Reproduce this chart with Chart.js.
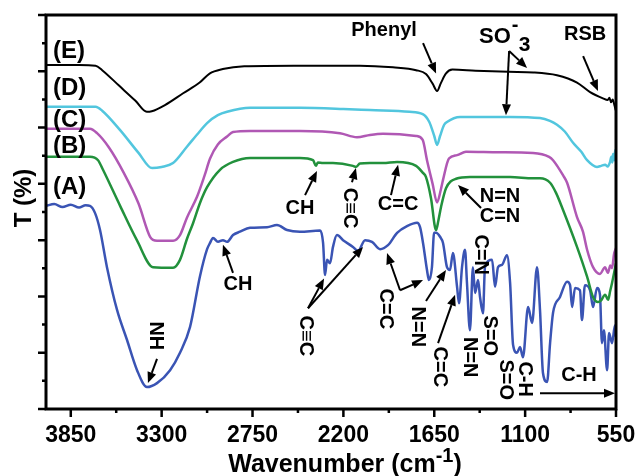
<!DOCTYPE html>
<html>
<head>
<meta charset="utf-8">
<script src="https://cdn.jsdelivr.net/npm/chart.js@4.4.1/dist/chart.umd.min.js"></script>
<style>
  html, body { margin: 0; padding: 0; background: #fff; }
</style>
</head>
<body>
<canvas id="ftir" width="636" height="476"></canvas>
<script>
const FONT = '"Liberation Sans", Arial, Helvetica, sans-serif';

// [wavenumber cm-1, T] pairs
const specE = [[4000,61.1],[3800,61.1],[3700,61.0],[3660,60.2],[3560,57.5],[3460,54.8],[3390,52.8],[3360,52.9],[3280,54.0],[3170,56.1],[3070,58.0],[3010,59.6],[2930,60.4],[2800,60.9],[2500,61.0],[2100,61.0],[1900,60.7],[1760,60.2],[1700,59.5],[1660,57.8],[1633,56.5],[1610,57.9],[1580,59.6],[1540,60.3],[1400,60.1],[1200,59.9],[1050,59.8],[907,59.3],[786,58.0],[707,56.3],[629,55.2],[600,54.9],[590,55.3],[580,54.5],[570,55.0],[560,54.0],[552,53.1]];
const specD = [[4000,53.7],[3700,53.7],[3660,53.0],[3550,49.5],[3440,45.5],[3358,42.8],[3300,43.0],[3231,43.7],[3147,46.6],[3070,49.3],[3025,50.8],[2960,52.2],[2904,52.8],[2765,53.5],[2463,53.5],[2200,53.3],[2039,53.1],[1800,52.8],[1720,52.4],[1680,51.0],[1650,48.5],[1633,46.9],[1615,48.5],[1590,50.5],[1573,51.0],[1494,51.9],[1191,51.9],[1010,51.7],[950,51.2],[907,50.5],[860,49.3],[810,47.3],[760,45.7],[725,44.2],[665,43.0],[640,43.2],[616,43.4],[600,43.1],[586,43.9],[578,44.8],[572,43.8],[568,45.3],[560,44.2],[555,46.0],[550,45.5]];
const specC = [[4000,49.8],[3734,49.8],[3691,49.0],[3620,46.5],[3530,42.0],[3440,36.5],[3370,30.6],[3328,29.9],[3231,29.9],[3189,30.9],[3147,34.0],[3086,37.7],[3040,41.5],[3007,44.5],[2960,47.0],[2904,48.4],[2868,49.2],[2765,49.4],[2463,49.4],[2221,49.0],[2118,48.3],[2039,48.7],[1960,48.9],[1760,48.5],[1720,47.8],[1694,44.2],[1660,40.0],[1633,36.7],[1610,39.0],[1597,40.7],[1561,44.5],[1512,45.1],[1458,45.7],[1258,45.6],[1052,45.5],[955,44.8],[931,44.2],[870,41.5],[846,40.2],[786,34.1],[750,31.5],[725,28.3],[689,25.2],[647,24.0],[616,25.2],[605,24.5],[598,24.2],[585,25.5],[574,25.0],[562,27.5],[550,28.6]];
const specB = [[4000,44.8],[3734,44.8],[3685,44.2],[3655,42.5],[3550,36.0],[3450,30.0],[3352,25.2],[3231,25.1],[3189,26.5],[3147,30.2],[3110,33.0],[3068,36.6],[3025,39.4],[2947,42.5],[2868,43.9],[2765,44.6],[2463,44.6],[2384,44.2],[2366,43.2],[2355,43.8],[2323,43.7],[2263,43.7],[2142,43.2],[2124,43.0],[2100,43.6],[2039,43.7],[1960,43.7],[1875,43.9],[1760,43.2],[1720,42.0],[1700,41.2],[1670,37.5],[1639,31.8],[1625,33.5],[1609,35.9],[1579,39.2],[1518,40.9],[1434,41.2],[1191,41.2],[1052,41.0],[1010,41.0],[949,40.2],[913,38.4],[871,35.4],[786,28.8],[725,23.5],[689,19.9],[659,19.0],[640,19.3],[616,20.3],[598,19.4],[585,21.0],[574,22.4],[550,25.9]];
const specA = [[4000,36.1],[3950,36.4],[3900,35.9],[3850,36.3],[3800,35.8],[3760,36.2],[3734,36.1],[3703,34.8],[3673,31.8],[3631,25.2],[3570,17.6],[3510,12.3],[3449,6.9],[3389,3.9],[3328,4.6],[3249,6.9],[3189,10.0],[3128,14.6],[3068,23.6],[3025,28.4],[3007,29.5],[2989,30.4],[2959,29.7],[2929,30.0],[2904,29.7],[2868,30.9],[2826,31.5],[2765,32.2],[2662,32.3],[2602,32.7],[2541,31.8],[2463,31.5],[2341,31.7],[2323,29.5],[2311,23.8],[2299,26.5],[2281,25.9],[2263,28.8],[2239,30.9],[2202,30.0],[2142,28.8],[2111,28.1],[2069,30.0],[2027,29.7],[1978,28.4],[1930,29.1],[1875,31.3],[1815,32.5],[1754,33.1],[1736,32.3],[1718,29.5],[1694,24.7],[1682,22.9],[1664,25.2],[1651,31.3],[1639,31.3],[1615,30.6],[1597,29.5],[1573,25.2],[1555,24.7],[1537,27.7],[1512,21.7],[1500,18.8],[1482,25.2],[1464,28.3],[1452,22.4],[1434,14.0],[1416,25.2],[1403,20.6],[1385,22.9],[1373,19.9],[1355,17.0],[1343,25.2],[1300,26.5],[1282,21.7],[1264,25.2],[1240,25.6],[1210,27.3],[1191,22.4],[1173,11.4],[1149,10.0],[1131,11.0],[1113,9.2],[1082,18.1],[1058,15.3],[1028,25.2],[1010,17.6],[992,6.4],[967,4.8],[949,11.7],[931,17.1],[889,19.9],[846,22.6],[828,22.0],[816,18.1],[798,21.5],[768,21.1],[756,15.8],[738,22.0],[707,21.1],[689,18.1],[665,21.5],[647,20.3],[635,11.7],[623,14.0],[604,6.9],[592,13.5],[574,11.7],[556,14.9],[550,12.8]];

const seriesNames = ['(E)', '(D)', '(C)', '(B)', '(A)'];
const seriesData = [specE, specD, specC, specB, specA];
const seriesColors = ['#000000', '#52c6de', '#b058b4', '#22913c', '#3a54b4'];
const xTicks = [3850, 3300, 2750, 2200, 1650, 1100, 550];
const xMinor = [3575, 3025, 2475, 1925, 1375, 825];
const yMajor = [0, 10, 20, 30, 40, 50, 60, 70];
const yMinor = [5, 15, 25, 35, 45, 55, 65];

// band labels: text, anchor [wn, T], rotated?, arrows [[from],[to]]
const notes = [
  { text: '(E)', at: [3958, 63.6], left: true, size: 24 },
  { text: '(D)', at: [3958, 56.9], left: true, size: 24 },
  { text: '(C)', at: [3958, 51.2], left: true, size: 24 },
  { text: '(B)', at: [3958, 46.6], left: true, size: 24 },
  { text: '(A)', at: [3958, 39.3], left: true, size: 24 },
  { text: 'Phenyl', at: [1954, 67.3], arrows: [[[1718, 65.0], [1639, 59.6]]] },
  { text: 'RSB', at: [737, 66.6], arrows: [[[749, 62.7], [659, 56.5]]] },
  { text: 'CH', at: [2463, 35.7], arrows: [[[2432, 38.0], [2360, 42.3]]] },
  { text: 'C\u2261C', at: [2160, 35.7], rot: true, arrows: [[[2148, 40.3], [2124, 42.8]]] },
  { text: 'C=C', at: [1869, 36.3], arrows: [[[1912, 38.0], [1869, 43.4]]] },
  { text: 'N=N', at: [1252, 37.8] },
  { text: 'C=N', at: [1252, 34.2], arrows: [[[1367, 35.7], [1506, 39.8]]] },
  { text: 'CH', at: [2838, 22.2], arrows: [[[2868, 24.2], [2929, 29.2]]] },
  { text: 'NH', at: [3340, 13.0], rot: true, arrows: [[[3328, 8.9], [3383, 4.6]]] },
  { text: 'C\u2261C', at: [2432, 13.0], rot: true, arrows: [[[2414, 17.9], [2317, 23.2]], [[2414, 17.9], [2081, 28.8]]] },
  { text: 'C=C', at: [1948, 17.8], rot: true, arrows: [[[1857, 21.1], [1936, 27.7]], [[1857, 21.1], [1718, 22.9]]] },
  { text: 'N=N', at: [1754, 14.6], rot: true, arrows: [[[1700, 19.2], [1579, 24.7]]] },
  { text: 'C=C', at: [1621, 7.5], rot: true, arrows: [[[1627, 11.7], [1524, 20.3]]] },
  { text: 'C=N', at: [1373, 27.4], rot: true },
  { text: 'N=N', at: [1434, 9.2], rot: true },
  { text: 'S=O', at: [1313, 13.0], rot: true },
  { text: 'S=O', at: [1216, 5.2], rot: true },
  { text: 'C-H', at: [1101, 5.3], rot: true },
  { text: 'C-H', at: [774, 6.0], arrows: [[[1010, 2.8], [556, 2.8]]] }
];

function arrow(ctx, x0, y0, x1, y1) {
  const ang = Math.atan2(y1 - y0, x1 - x0), head = 11, half = 4.5;
  const bx = x1 - head * Math.cos(ang), by = y1 - head * Math.sin(ang);
  ctx.beginPath(); ctx.moveTo(x0, y0); ctx.lineTo(bx, by); ctx.stroke();
  ctx.beginPath();
  ctx.moveTo(x1, y1);
  ctx.lineTo(bx - half * Math.sin(ang), by + half * Math.cos(ang));
  ctx.lineTo(bx + half * Math.sin(ang), by - half * Math.cos(ang));
  ctx.closePath(); ctx.fill();
}

const decorations = {
  id: 'decorations',
  afterDraw(chart) {
    const { ctx, chartArea: a, scales: { x, y } } = chart;
    const px = v => x.getPixelForValue(v), py = v => y.getPixelForValue(v);
    ctx.save();
    ctx.strokeStyle = '#000';
    ctx.fillStyle = '#000';

    // frame + outward ticks
    ctx.lineWidth = 3;
    ctx.strokeRect(a.left, a.top, a.right - a.left, a.bottom - a.top);
    ctx.lineWidth = 2.5;
    ctx.beginPath();
    xTicks.forEach(v => { ctx.moveTo(px(v), a.bottom); ctx.lineTo(px(v), a.bottom + 8); });
    xMinor.forEach(v => { ctx.moveTo(px(v), a.bottom); ctx.lineTo(px(v), a.bottom + 4); });
    yMajor.forEach(v => { ctx.moveTo(a.left, py(v)); ctx.lineTo(a.left - 8, py(v)); });
    yMinor.forEach(v => { ctx.moveTo(a.left, py(v)); ctx.lineTo(a.left - 4, py(v)); });
    ctx.stroke();

    // axis titles
    ctx.font = 'bold 24px ' + FONT;
    ctx.textAlign = 'center';
    ctx.textBaseline = 'middle';
    ctx.save();
    ctx.translate(24, 198);
    ctx.rotate(-Math.PI / 2);
    ctx.fillText('T (%)', 0, 0);
    ctx.restore();

    ctx.textAlign = 'left';
    ctx.textBaseline = 'alphabetic';
    const main = 'Wavenumber (cm', close = ')', sup = '-1';
    ctx.font = 'bold 25px ' + FONT;
    const wMain = ctx.measureText(main).width, wClose = ctx.measureText(close).width;
    ctx.font = 'bold 20px ' + FONT;
    const wSup = ctx.measureText(sup).width;
    let tx = 345 - (wMain + wSup + wClose) / 2;
    ctx.font = 'bold 25px ' + FONT;
    ctx.fillText(main, tx, 472);
    ctx.font = 'bold 20px ' + FONT;
    ctx.fillText(sup, tx + wMain, 462);
    ctx.font = 'bold 25px ' + FONT;
    ctx.fillText(close, tx + wMain + wSup, 472);

    // band labels and arrows
    ctx.lineWidth = 2;
    notes.forEach(n => {
      const cx = px(n.at[0]), cy = py(n.at[1]);
      ctx.font = 'bold ' + (n.size || 20) + 'px ' + FONT;
      ctx.textBaseline = 'middle';
      if (n.rot) {
        ctx.save();
        ctx.translate(cx, cy);
        ctx.rotate(Math.PI / 2);
        ctx.textAlign = 'center';
        ctx.fillText(n.text, 0, 0);
        ctx.restore();
      } else {
        ctx.textAlign = n.left ? 'left' : 'center';
        ctx.fillText(n.text, cx, cy);
      }
      (n.arrows || []).forEach(([f, t]) => arrow(ctx, px(f[0]), py(f[1]), px(t[0]), py(t[1])));
    });

    // SO3- label with super/subscript
    const sx = px(1379), sy = py(66.1);
    ctx.textAlign = 'left';
    ctx.textBaseline = 'middle';
    ctx.font = 'bold 22px ' + FONT;
    ctx.fillText('SO', sx, sy);
    const wSO = ctx.measureText('SO').width;
    ctx.font = 'bold 20px ' + FONT;
    ctx.fillText('-', sx + wSO + 1, sy - 11);
    ctx.font = 'bold 21px ' + FONT;
    ctx.fillText('3', sx + wSO + 8, sy + 8);
    arrow(ctx, px(1197), py(63.6), px(1088), py(60.6));
    arrow(ctx, px(1197), py(63.6), px(1216), py(52.2));

    ctx.restore();
  }
};

new Chart(document.getElementById('ftir'), {
  type: 'line',
  data: {
    datasets: seriesData.map((s, i) => ({
      label: seriesNames[i],
      data: s.map(([wn, t]) => ({ x: wn, y: t })),
      borderColor: seriesColors[i],
      borderWidth: i === 0 ? 2 : 2.5,
      pointRadius: 0,
      fill: false,
      cubicInterpolationMode: 'monotone'
    }))
  },
  options: {
    responsive: false,
    animation: false,
    devicePixelRatio: 1,
    layout: { padding: { top: 15, right: 20, bottom: 0, left: 0 } },
    plugins: { legend: { display: false }, tooltip: { enabled: false } },
    scales: {
      x: {
        type: 'linear',
        reverse: true,
        min: 550,
        max: 4000,
        afterBuildTicks: axis => { axis.ticks = xTicks.map(v => ({ value: v })); },
        afterFit: axis => { axis.height = 67; axis.paddingLeft = 0; axis.paddingRight = 0; },
        ticks: {
          autoSkip: false,
          maxRotation: 0,
          padding: 13,
          color: '#000',
          font: { family: FONT, size: 23, weight: 'bold' },
          callback: v => String(v)
        },
        grid: { display: false, drawTicks: false },
        border: { display: false }
      },
      y: {
        min: 0,
        max: 70,
        afterFit: axis => { axis.width = 46; },
        ticks: { display: false },
        grid: { display: false, drawTicks: false },
        border: { display: false }
      }
    }
  },
  plugins: [decorations]
});
</script>
</body>
</html>
